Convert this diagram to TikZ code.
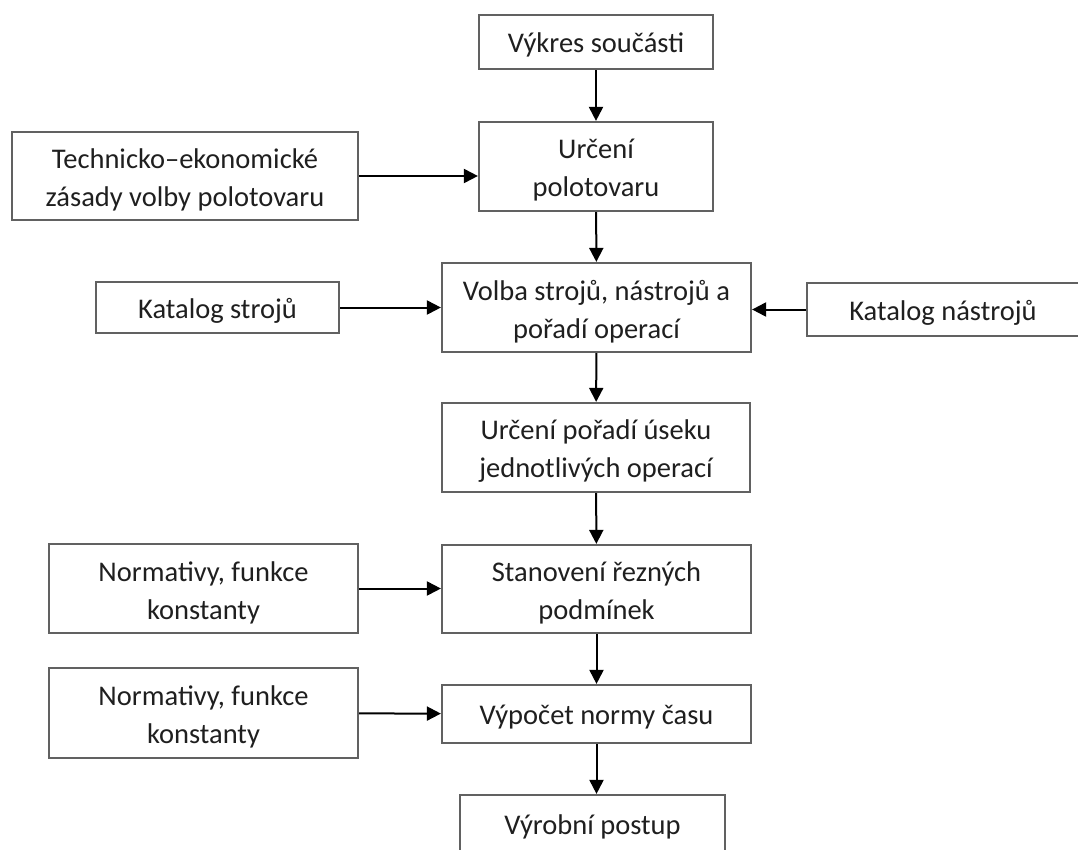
\documentclass[tikz,border=0pt]{standalone}
\usepackage{fontspec}
\setmainfont{Carlito}
\usetikzlibrary{arrows.meta}
\begin{document}
\begin{tikzpicture}[x=1pt,y=-1pt,
  box/.style={draw=black!62, line width=2.2pt, fill=white, inner sep=0pt},
  txt/.style={align=center, inner sep=0pt, font=\fontsize{28.5}{38}\selectfont, text=black!88},
  flow/.style={draw=black, line width=2pt, -{Triangle[length=14pt,width=14pt]}}]
\useasboundingbox (0,0) rectangle (1078,849);

% main column
\node[box, minimum width=234pt, minimum height=54pt] (vk) at (596,42) {};
\node[box, minimum width=234pt, minimum height=89pt] (up) at (596,166.5) {};
\node[box, minimum width=309pt, minimum height=89pt] (vo) at (596.5,307.5) {};
\node[box, minimum width=308pt, minimum height=89pt] (ur) at (596,447.5) {};
\node[box, minimum width=309pt, minimum height=88pt] (st) at (596.5,589) {};
\node[box, minimum width=309pt, minimum height=58pt] (vp) at (596.5,714) {};
\node[box, minimum width=265pt, minimum height=58pt] (vy) at (592.5,824) {};

% side inputs
\node[box, minimum width=346pt, minimum height=88pt] (te) at (185,176) {};
\node[box, minimum width=243pt, minimum height=51pt] (ks) at (217.5,307.5) {};
\node[box, minimum width=272pt, minimum height=53pt] (kn) at (943,309.5) {};
\node[box, minimum width=309pt, minimum height=89pt] (n1) at (203.5,588.5) {};
\node[box, minimum width=309pt, minimum height=90pt] (n2) at (203.5,713) {};

% box captions, set a little below the box centres
\node[txt] (vk-t) at ([yshift=-3pt]vk) {Výkres součásti};
\node[txt] (up-t) at ([yshift=-4pt]up) {Určení\\polotovaru};
\node[txt] (vo-t) at ([yshift=-4pt]vo) {Volba strojů, nástrojů a\\pořadí operací};
\node[txt] (ur-t) at ([yshift=-4pt]ur) {Určení pořadí úseku\\jednotlivých operací};
\node[txt] (st-t) at ([yshift=-4pt]st) {Stanovení řezných\\podmínek};
\node[txt] (vp-t) at ([yshift=-3pt]vp) {Výpočet normy času};
\node[txt] (vy-t) at ([yshift=-3pt]vy) {Výrobní postup};
\node[txt] (te-t) at ([yshift=-4pt]te) {Technicko–ekonomické\\zásady volby polotovaru};
\node[txt] (ks-t) at ([yshift=-3pt]ks) {Katalog strojů};
\node[txt] (kn-t) at ([yshift=-3pt]kn) {Katalog nástrojů};
\node[txt] (n1-t) at ([yshift=-4pt]n1) {Normativy, funkce\\konstanty};
\node[txt] (n2-t) at ([yshift=-4pt]n2) {Normativy, funkce\\konstanty};

% vertical flow
\draw[flow] (vk) -- (up);
\draw[flow] (up) -- (vo);
\draw[flow] (vo) -- (ur);
\draw[flow] (ur) -- (st);
\draw[flow] (st) -- (vp);
\draw[flow] (vp.south) -- (vp.south |- vy.north);

% horizontal inputs
\draw[flow] (te.east) -- (te.east -| up.west);
\draw[flow] (ks) -- (vo);
\draw[flow] (kn.west) -- (kn.west -| vo.east);
\draw[flow] (n1.east) -- (n1.east -| st.west);
\draw[flow] (n2) -- (vp);
\end{tikzpicture}
\end{document}
